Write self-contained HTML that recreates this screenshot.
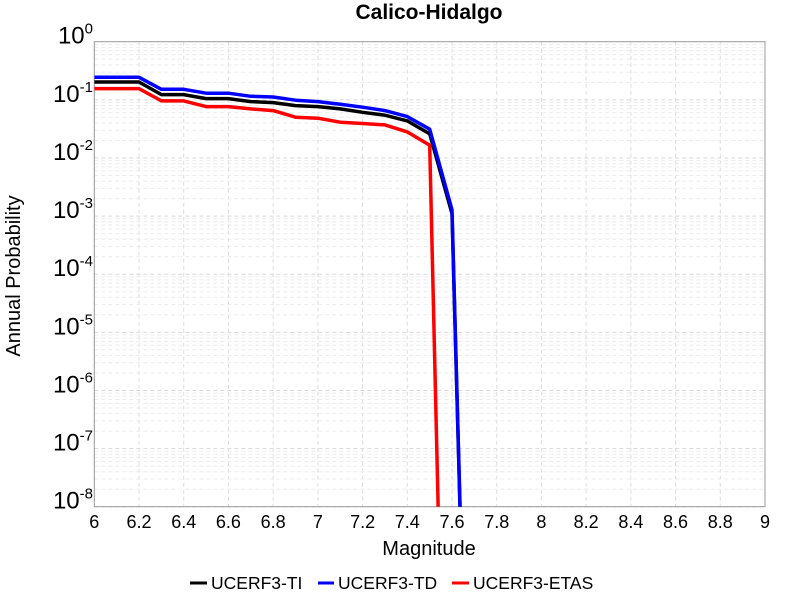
<!DOCTYPE html>
<html><head><meta charset="utf-8"><style>
html,body{margin:0;padding:0;background:#fff;width:800px;height:600px;overflow:hidden;}
svg{display:block;font-family:"Liberation Sans",sans-serif;}
</style></head><body>
<svg id="chart" width="800" height="600">
<text x="429" y="19" text-anchor="middle" font-size="21" font-weight="bold">Calico-Hidalgo</text>
<g id="grid"></g>
<rect x="94.3" y="41.7" width="670.7" height="465" fill="none" stroke="#999" stroke-width="1"/>
<defs><clipPath id="clip"><rect x="94.3" y="41.7" width="670.7" height="465"/></clipPath></defs>
<g id="series" clip-path="url(#clip)"></g>
<g id="xticks"></g>
<g id="yticks"></g>
<text x="429" y="555" text-anchor="middle" font-size="20">Magnitude</text>
<text transform="translate(20,276) rotate(-90)" text-anchor="middle" font-size="20">Annual Probability</text>
<g>
<g><line x1="190" y1="583" x2="207" y2="583" stroke="#000" stroke-width="3"/><text x="211" y="589" font-size="17.5">UCERF3-TI</text></g>
<g><line x1="318" y1="583" x2="334" y2="583" stroke="#00f" stroke-width="3"/><text x="338" y="589" font-size="17.5">UCERF3-TD</text></g>
<g><line x1="452" y1="583" x2="469" y2="583" stroke="#f00" stroke-width="3"/><text x="473" y="589" font-size="17.5">UCERF3-ETAS</text></g>
</g>
</svg>
<script>
const mags=[6.0,6.1,6.2,6.3,6.4,6.5,6.6,6.7,6.8,6.9,7.0,7.1,7.2,7.3,7.4,7.5,7.6,7.7];
const tiVals=[0.203,0.203,0.203,0.123,0.123,0.105,0.105,0.0933,0.0896,0.0796,0.0765,0.0698,0.0611,0.0543,0.0434,0.0259,0.0011,7e-18];
const tdVals=[0.244,0.244,0.244,0.152,0.152,0.130,0.130,0.115,0.112,0.0984,0.0933,0.0840,0.0746,0.0653,0.0515,0.0312,0.00128,8e-18];
const etasVals=[0.156,0.156,0.156,0.0957,0.0957,0.0765,0.0765,0.0698,0.0653,0.0502,0.0483,0.0412,0.0391,0.0371,0.0281,0.0166,6e-19,1e-25];
const xTicks=[6,6.2,6.4,6.6,6.8,7,7.2,7.4,7.6,7.8,8,8.2,8.4,8.6,8.8,9];
const xTickLabels=["6","6.2","6.4","6.6","6.8","7","7.2","7.4","7.6","7.8","8","8.2","8.4","8.6","8.8","9"];
const yDecades=[0,-1,-2,-3,-4,-5,-6,-7,-8];
const NS="http://www.w3.org/2000/svg";
const L=94.3,R=765,T=41.7,B=506.7;
function xs(m){return L+(m-6)/3*(R-L);}
function ys(v){return T+(-Math.log10(v))/8*(B-T);}
function mk(tag,attrs,parent){const e=document.createElementNS(NS,tag);for(const k in attrs)e.setAttribute(k,attrs[k]);parent.appendChild(e);return e;}
const grid=document.getElementById('grid');
xTicks.forEach(t=>{const gl=mk('line',{x1:xs(t),x2:xs(t),y1:T,y2:B,stroke:'#ddd','stroke-dasharray':'4,3'},grid);

});
yDecades.forEach(d=>{
 for(let k=1;k<10;k++){const v=k*Math.pow(10,d-1);if(v>1)continue;const y=ys(v);if(y>B+0.5)continue;
  const gl=mk('line',{x1:L,x2:R,y1:y,y2:y,stroke:k==1?'#dadada':'#ececec','stroke-dasharray':'4,3'},grid);
  
  }
 });
const xg=document.getElementById('xticks');
xTicks.forEach((t,i)=>{const tx=mk('text',{x:xs(t),y:528,'text-anchor':'middle','font-size':'18'},xg);tx.textContent=xTickLabels[i];

});
const yg=document.getElementById('yticks');
yDecades.forEach(d=>{const y=ys(Math.pow(10,d));
 const tx=mk('text',{x:93,y:y+2,'text-anchor':'end','font-size':'24'},yg);
 
 
 const b=document.createElementNS(NS,'tspan');b.textContent='10';tx.appendChild(b);
 const s=document.createElementNS(NS,'tspan');s.setAttribute('dy','-10');s.setAttribute('font-size','15');s.textContent=String(d);tx.appendChild(s);
});
const sg=document.getElementById('series');
[[tiVals,'#000','ti'],[tdVals,'#00f','td'],[etasVals,'#f00','etas']].forEach(([vals,c,n])=>{
 const pts=mags.map((m,i)=>xs(m).toFixed(1)+','+ys(vals[i]).toFixed(1)).join(' ');
 const pl=mk('polyline',{points:pts,fill:'none',stroke:c,'stroke-width':'3.5','stroke-linejoin':'round'},sg);
 
 
});
sg.appendChild(sg.children[1]);
</script>
</body></html>
